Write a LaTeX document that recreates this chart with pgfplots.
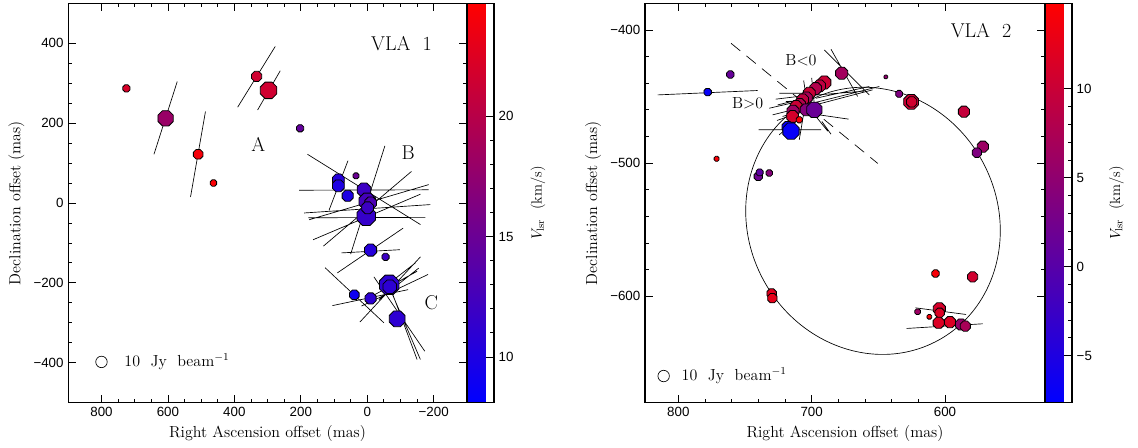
\documentclass[border=0pt]{standalone}
\usepackage{fontspec}
\usepackage{pgfplots}
\usepackage{pgfplotstable}
\pgfplotsset{compat=1.18}
\newfontfamily\tickfont{Liberation Sans}

% octagon mark, radius = mark size
\pgfdeclareplotmark{oct}{%
  \pgfpathmoveto{\pgfqpointpolar{22.5}{\pgfplotmarksize}}%
  \pgfpathlineto{\pgfqpointpolar{67.5}{\pgfplotmarksize}}%
  \pgfpathlineto{\pgfqpointpolar{112.5}{\pgfplotmarksize}}%
  \pgfpathlineto{\pgfqpointpolar{157.5}{\pgfplotmarksize}}%
  \pgfpathlineto{\pgfqpointpolar{202.5}{\pgfplotmarksize}}%
  \pgfpathlineto{\pgfqpointpolar{247.5}{\pgfplotmarksize}}%
  \pgfpathlineto{\pgfqpointpolar{292.5}{\pgfplotmarksize}}%
  \pgfpathlineto{\pgfqpointpolar{337.5}{\pgfplotmarksize}}%
  \pgfpathclose
  \pgfusepathqfillstroke}

\pgfplotsset{
  colormap={vr}{rgb255=(0,0,255) rgb255=(255,0,0)},
  vla/.style={
    scale only axis, anchor=south west, x dir=reverse,
    axis line style={line width=1pt},
    tick align=inside, major tick length=6pt, minor tick length=3pt,
    every tick/.style={black, line width=0.6pt},
    tick label style={font=\tickfont\fontsize{10}{11}\selectfont},
    label style={font=\fontsize{12}{14}\selectfont},
    xlabel={Right Ascension offset (mas)},
    ylabel={Declination offset (mas)},
    colormap name=vr,
    colorbar,
    colorbar shift/.style={xshift=0pt},
    colorbar style={
      at={(parent axis.north east)}, anchor=north west,
      width=20.25pt,
      axis line style={line width=1pt},
      ytick pos=right, yticklabel pos=right,
      tick align=inside, major tick length=6pt, minor tick length=3pt,
      minor y tick num=4,
      tick label style={font=\tickfont\fontsize{10}{11}\selectfont},
      ylabel={$V_{\mathrm{lsr}}$\ \ (km/s)},
      ylabel style={font=\fontsize{11}{13}\selectfont},
      ylabel shift=6pt,
    },
  },
  oct/.style={scatter, only marks, mark=oct, scatter src=explicit,
    scatter/use mapped color={draw=black, fill=mapped color},
    visualization depends on={\thisrow{r}\as\rad},
    scatter/@pre marker code/.append style={/tikz/mark size=\rad},
    mark options={line width=0.6pt}},
  vec/.style={black, line width=0.5pt, no marks, unbounded coords=jump},
}

% x y (mas), r = marker radius (pt), v = V_lsr (km/s)
\pgfplotstableread{
x y r v
725 287 2.9 22
607 212 6.2 18
509 122 3.9 24
463 50 2.6 24.3
333 317 4.1 21.5
297 282 6.7 21.5
202 187 2.9 14.5
34 68 2.4 15
87 58 4.8 10.5
87 43 4.8 10
59 18 4.5 10
10 33 5.5 12
0 4 6.7 12.5
-10 0 4.8 13
3 -33 7.5 11.5
-1 -12 4.8 12
-10 -118 4.9 10.5
-55 -135 2.9 12
39 -230 3.9 9
-10 -239 4.5 11
-66 -205 7.9 11
-68 -210 5.5 11
-90 -290 6.4 11
}\vlaone

\pgfplotstableread{
x y r v
761 -433.5 3.0 1.3
778 -446.7 3.0 -7
771.3 -496.8 2.0 14
740 -510 3.4 2
739 -507 2.8 0.5
731.8 -507.5 2.6 4
730 -598 3.8 12
729.5 -601.5 3.8 12.5
644.4 -435.3 1.5 5
634.4 -448 2.8 3.5
625.4 -454 6.0 10
625 -454 4.2 10.5
585.8 -461.4 4.5 9.5
571.6 -487.7 4.5 6
576.1 -492.2 3.8 3.5
607.1 -583 3.0 14
579.3 -585.5 4.1 10.5
620.5 -611.7 2.3 6
611.75 -615.5 1.9 14
604.25 -609.5 4.9 11
604 -612.5 3.8 11.5
604.75 -620 4.5 11.5
596.25 -619.5 4.5 11.5
588 -621.25 4.5 5.5
584.75 -622.5 4.1 7
677.5 -432.5 4.9 6.5
690.5 -439.5 5.3 10
694 -442 4.8 9
697 -444 4.8 8
701.8 -447.5 4.8 10
704 -451 4.8 7
706.8 -452.5 4.8 9
709 -456 4.8 8
711.7 -457.5 4.8 10
714 -461 4.8 6
714.3 -465 4.8 11
709.3 -467.5 2.5 14
704.2 -460 4.8 4
698 -460 6.2 1.5
718 -473 4.6 -7
715.5 -476 6.6 -7
}\vlatwo

\begin{document}
\begin{tikzpicture}
\useasboundingbox (0,0) rectangle (853.5pt,336pt);

% ---------------- VLA 1 ----------------
\begin{axis}[vla, at={(51.2pt,34pt)}, width=299pt, height=299.5pt,
  xmin=-300, xmax=900, ymin=-500, ymax=500,
  xtick={-200,0,200,400,600,800}, xticklabels={−200,0,200,400,600,800},
  ytick={-400,-200,0,200,400}, yticklabels={−400,−200,0,200,400},
  minor x tick num=3, minor y tick num=3,
  point meta min=8.1, point meta max=24.7,
  colorbar style={ytick={10,15,20}, yticklabels={10,15,20}},
]
\addplot[oct] table[x=x, y=y, meta=v] {\vlaone};
\addplot[vec] coordinates {
(642,122) (572,304) (nan,nan)
(532,15) (487,229) (nan,nan)
(390,240) (277,392) (nan,nan)
(330,233) (262,331) (nan,nan)
(180,122) (-160,-54) (nan,nan)
(205,32) (-185,33) (nan,nan)
(190,-25) (-190,-4) (nan,nan)
(177,-37) (-175,-36) (nan,nan)
(175,-42) (-185,46) (nan,nan)
(163,-92) (-160,22) (nan,nan)
(132,-108) (-133,79) (nan,nan)
(115,-18) (58,106) (nan,nan)
(50,-128) (-53,143) (nan,nan)
(78,-125) (-98,-117) (nan,nan)
(90,-175) (-108,-63) (nan,nan)
(127,-162) (-50,-300) (nan,nan)
(105,-257) (-123,-217) (nan,nan)
(22,-298) (-160,-135) (nan,nan)
(17,-258) (-183,-179) (nan,nan)
(-20,-185) (-173,-371) (nan,nan)
(-65,-208) (-160,-392) (nan,nan)
(-75,-225) (-150,-392) (nan,nan)
(-35,-242) (-155,-163) (nan,nan)
(-15,-233) (-150,-171) (nan,nan)
(-60,-205) (-145,-150) (nan,nan)
};
\addplot[only marks, mark=o, mark size=4.3pt, mark options={black, line width=0.5pt}]
  coordinates {(800,-398)};
\node[anchor=west, font=\fontsize{12}{14}\selectfont] at (axis cs:745,-398) {10\ \ Jy\ \ beam$^{-1}$};
\node[font=\fontsize{15}{17}\selectfont] at (axis cs:-103,400) {VLA\ \ 1};
\node[font=\fontsize{15}{17}\selectfont] at (axis cs:328,146) {A};
\node[font=\fontsize{15}{17}\selectfont] at (axis cs:-123,127) {B};
\node[font=\fontsize{15}{17}\selectfont] at (axis cs:-193,-250) {C};
\end{axis}

% ---------------- VLA 2 ----------------
\begin{axis}[vla, at={(483.75pt,34pt)}, width=300pt, height=299.5pt,
  xmin=525, xmax=825, ymin=-680, ymax=-380,
  xtick={600,700,800}, xticklabels={600,700,800},
  ytick={-600,-500,-400}, yticklabels={−600,−500,−400},
  minor x tick num=4, minor y tick num=4,
  point meta min=-7.64, point meta max=14.8,
  colorbar style={ytick={-5,0,5,10}, yticklabels={−5,0,5,10}},
]
\draw[line width=0.5pt, rotate around={28.6:(axis cs:654,-543.4)}]
  (axis cs:654,-543.4) ellipse [x radius=93.4pt, y radius=102.1pt];
\addplot[black, line width=0.5pt, dash pattern=on 9pt off 6pt, no marks]
  coordinates {(760.5,-410) (650.4,-500.3)};
\addplot[oct] table[x=x, y=y, meta=v] {\vlatwo};
\addplot[vec] coordinates {
(815.5,-448.8) (740.5,-445.5) (nan,nan)
(739.8,-475) (693,-475) (nan,nan)
(731.8,-458.8) (704.3,-452.5) (nan,nan)
(729.3,-463.8) (704.3,-457.5) (nan,nan)
(725.5,-456.3) (699.3,-450) (nan,nan)
(724.3,-447.5) (704.3,-447.5) (nan,nan)
(721.8,-465) (701.8,-458.8) (nan,nan)
(719.3,-453.8) (699.3,-452.5) (nan,nan)
(727,-452) (702,-449) (nan,nan)
(726,-468) (706,-461) (nan,nan)
(699.3,-455) (649.3,-442.5) (nan,nan)
(701.8,-457.5) (654.3,-445) (nan,nan)
(696.8,-451.3) (656.8,-442.5) (nan,nan)
(698,-449) (661,-446) (nan,nan)
(694.3,-463.8) (672.3,-467) (nan,nan)
(692.3,-468.8) (685.5,-478.3) (nan,nan)
(696,-466) (688,-476) (nan,nan)
(690.5,-415) (656.8,-448.8) (nan,nan)
(685.5,-414.5) (665.5,-450) (nan,nan)
(709.3,-482.5) (705.5,-460) (nan,nan)
(724.3,-478.8) (711.8,-467.5) (nan,nan)
(706,-438) (703,-458) (nan,nan)
(700,-436) (698,-456) (nan,nan)
(622.25,-608.75) (584.25,-613.75) (nan,nan)
(628.75,-624.25) (571.75,-620.75) (nan,nan)
};
\addplot[only marks, mark=o, mark size=4.3pt, mark options={black, line width=0.5pt}]
  coordinates {(811,-660)};
\node[anchor=west, font=\fontsize{12}{14}\selectfont] at (axis cs:801,-660) {10\ \ Jy\ \ beam$^{-1}$};
\node[font=\fontsize{15}{17}\selectfont] at (axis cs:573,-400.5) {VLA\ \ 2};
\node[font=\fontsize{12}{14}\selectfont] at (axis cs:708,-423) {B$<$0};
\node[font=\fontsize{12}{14}\selectfont] at (axis cs:748,-455) {B$>$0};
\end{axis}
\end{tikzpicture}
\end{document}
